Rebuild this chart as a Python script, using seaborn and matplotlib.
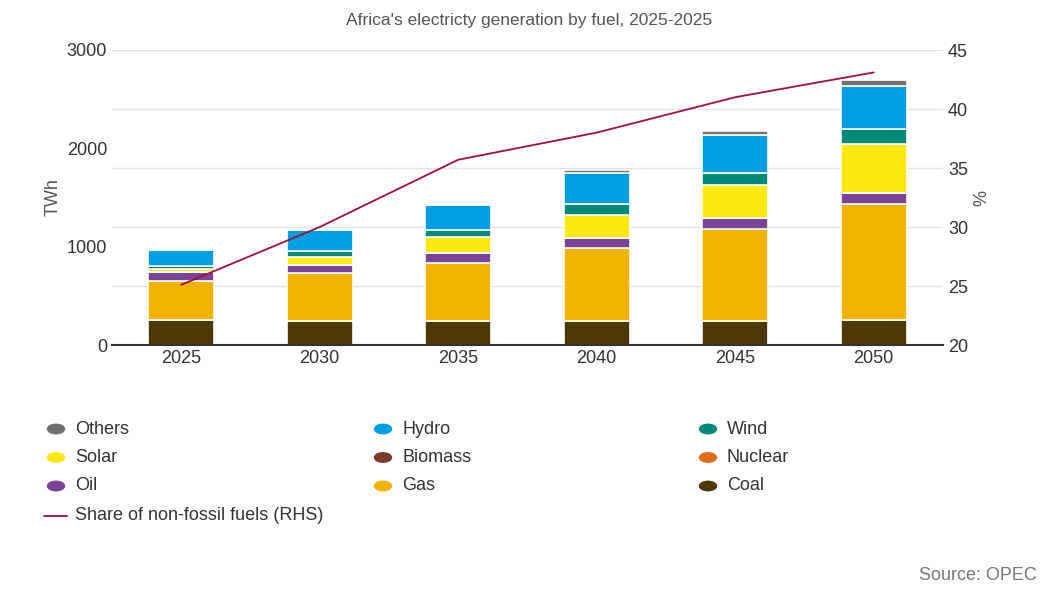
import matplotlib
matplotlib.use("Agg")
import matplotlib.pyplot as plt
import seaborn as sns
import pandas as pd
import numpy as np
from matplotlib.lines import Line2D

sns.set_theme(style="white")
plt.rcParams['font.family'] = ['Liberation Sans', 'DejaVu Sans']

years = ["2025", "2030", "2035", "2040", "2045", "2050"]
coal = [254, 244, 244, 244, 244, 254]
gas = [397, 485, 587, 740, 939, 1177]
oil = [89, 85, 108, 108, 106, 119]
nuclear = [0, 0, 0, 0, 0, 0]
biomass = [0, 0, 0, 0, 0, 0]
solar = [30, 84, 156, 230, 339, 492]
wind = [34, 58, 75, 109, 118, 152]
hydro = [162, 214, 254, 322, 390, 441]
others = [0, 0, 0, 27, 41, 61]
share = [25.1, 30.0, 35.7, 38.0, 41.0, 43.1]

series = [("Coal", coal, "#4d3705"), ("Gas", gas, "#f0b400"), ("Oil", oil, "#7b4397"),
          ("Nuclear", nuclear, "#e06c1a"), ("Biomass", biomass, "#7a3b2b"),
          ("Solar", solar, "#fde910"), ("Wind", wind, "#008a7a"),
          ("Hydro", hydro, "#009fe3"), ("Others", others, "#707070")]

fig = plt.figure(figsize=(10.59, 5.89), dpi=100)
ax = fig.add_axes([112/1059, 1-345/589, (943-112)/1059, 295/589])
bottom = np.zeros(len(years))
for name, vals, col in series:
    df = pd.DataFrame({"year": years, "v": vals})
    sns.barplot(data=df, x="year", y="v", bottom=bottom, color=col, width=0.48,
                edgecolor="white", linewidth=1.2, ax=ax, saturation=1)
    bottom += np.array(vals)
ax.set_ylim(0, 3000)
ax.set_yticks([0, 1000, 2000, 3000])
ax.set_xlim(-0.5, 5.5)
ax.set_ylabel("TWh", color="#555", fontsize=13)
ax.set_xlabel("")
ax.tick_params(labelsize=13, colors="#333", length=0)
for s in ["top", "right", "left"]:
    ax.spines[s].set_visible(False)
ax.spines["bottom"].set_color("#333")
ax.spines["bottom"].set_linewidth(1.5)

ax2 = ax.twinx()
ax2.set_ylim(20, 45)
ax2.set_yticks([20, 25, 30, 35, 40, 45])
ax2.yaxis.grid(True, color="#e3e3e3", linewidth=1)
ax2.set_axisbelow(True)
ax2.plot(range(len(years)), share, color="#a0103c", linewidth=1.3)
ax2.set_ylabel("%", color="#555", fontsize=13)
ax2.tick_params(labelsize=13, colors="#333", length=0)
for s in ax2.spines.values():
    s.set_visible(False)
ax.set_zorder(ax2.get_zorder() + 1)
ax.patch.set_visible(False)
# gridlines under bars: draw on ax instead
ax2.yaxis.grid(False)
for t in [20, 25, 30, 35, 40, 45]:
    ax.axhline((t - 20) / 25 * 3000, color="#e3e3e3", linewidth=1, zorder=0)
ax.set_zorder(1); ax2.set_zorder(2); ax2.patch.set_visible(False)

fig.text(0.5, 1-20/589, "Africa's electricty generation by fuel, 2025-2025",
         ha="center", va="center", fontsize=12.5, color="#555")

order = [("Others", "#707070"), ("Hydro", "#009fe3"), ("Wind", "#008a7a"),
         ("Solar", "#fde910"), ("Biomass", "#7a3b2b"), ("Nuclear", "#e06c1a"),
         ("Oil", "#7b4397"), ("Gas", "#f0b400"), ("Coal", "#4d3705")]
xs = [48, 375, 700]
for i, (name, col) in enumerate(order):
    r, c = divmod(i, 3)
    y = 1 - (429 + r * 28.5) / 589
    fig.patches.append(plt.Circle((xs[c] / 1059 + 8/1059, y), 8.5/1059,
                                  transform=fig.transFigure, color=col, figure=fig))
    fig.text((xs[c] + 27) / 1059, y, name, va="center", fontsize=13, color="#333")
y = 1 - 516 / 589
fig.add_artist(Line2D([44/1059, 67/1059], [y, y], color="#a0103c", linewidth=1.3))
fig.text(75/1059, y, "Share of non-fossil fuels (RHS)", va="center", fontsize=13, color="#333")
fig.text(1037/1059, 1 - 576/589, "Source: OPEC", ha="right", va="center", fontsize=13, color="#777")

fig.savefig("out.png", dpi=100)
